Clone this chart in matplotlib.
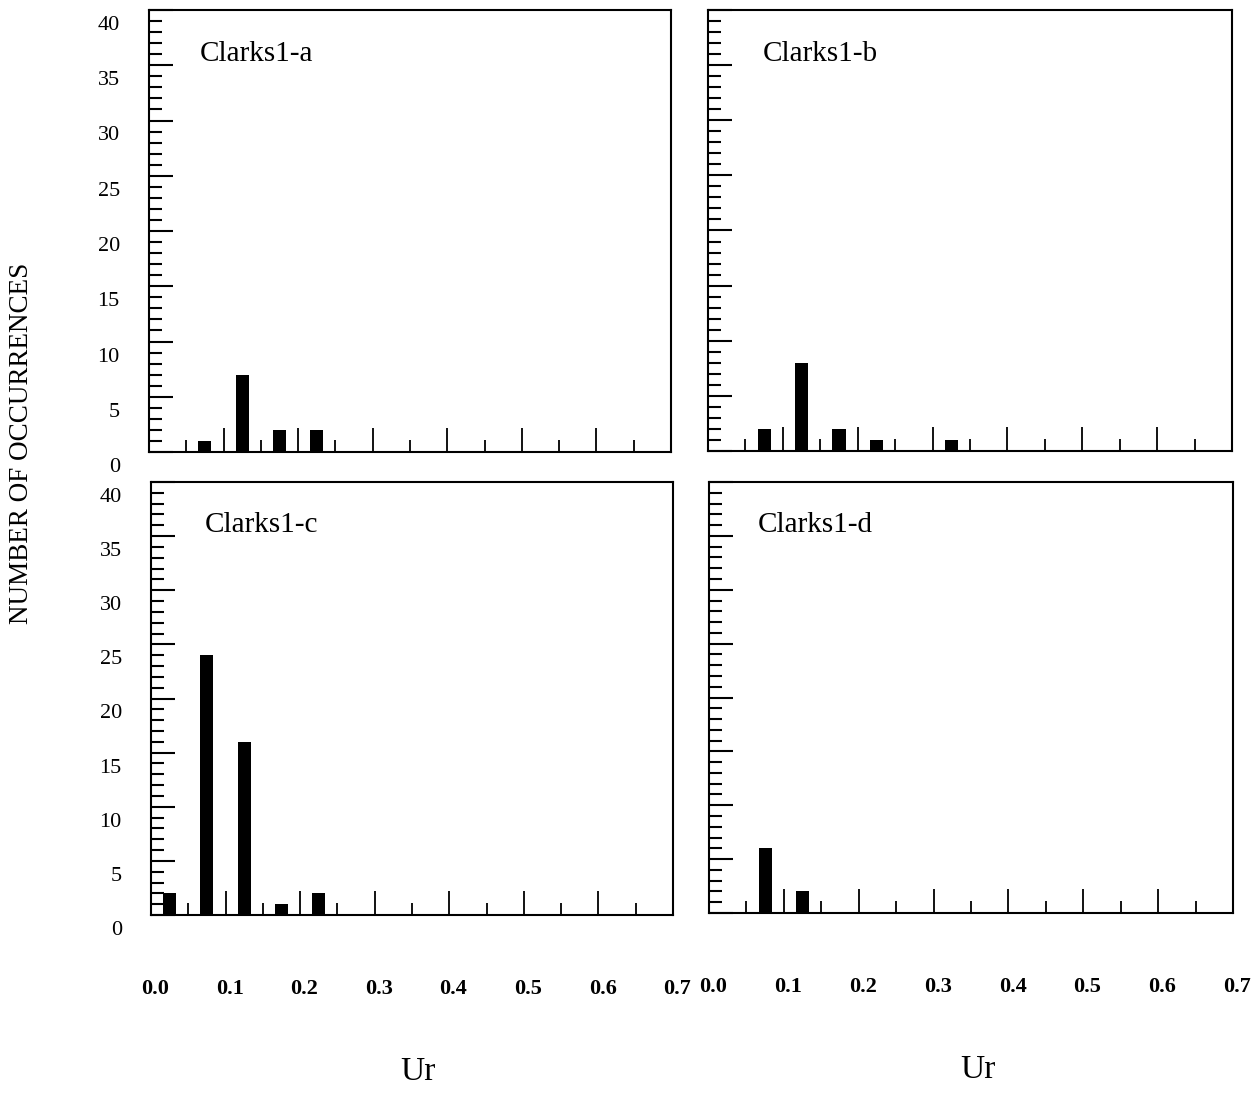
import matplotlib
matplotlib.use("Agg")
import matplotlib.pyplot as plt
from matplotlib.transforms import ScaledTranslation
from matplotlib.ticker import MultipleLocator, FixedLocator

plt.rcParams['font.family'] = ['Liberation Serif', 'DejaVu Serif']

# Data
bin_centers = [0.025, 0.075, 0.125, 0.175, 0.225, 0.275, 0.325]
counts_a = [0, 1, 7, 2, 2, 0, 0]
counts_b = [0, 2, 8, 2, 1, 0, 1]
counts_c = [2, 24, 16, 1, 2, 0, 0]
counts_d = [0, 6, 2, 0, 0, 0, 0]
panel_names = ["Clarks1-a", "Clarks1-b", "Clarks1-c", "Clarks1-d"]
x_tick_vals = [0.0, 0.1, 0.2, 0.3, 0.4, 0.5, 0.6, 0.7]
x_tick_labels = ["0.0", "0.1", "0.2", "0.3", "0.4", "0.5", "0.6", "0.7"]
y_tick_vals = [0, 5, 10, 15, 20, 25, 30, 35, 40]
y_tick_labels = ["0", "5", "10", "15", "20", "25", "30", "35", "40"]

W, H = 1257, 1100
fig = plt.figure(figsize=(W / 100, H / 100), dpi=100)

def rect(l, t, r, b):
    return [l / W, 1 - b / H, (r - l) / W, (b - t) / H]

rects = [rect(149, 10, 671, 452), rect(708, 10, 1232, 451),
         rect(151, 482, 673, 915), rect(709, 482, 1233, 913)]
series = [counts_a, counts_b, counts_c, counts_d]
name_pos = [(200, 54), (763, 54), (205, 525), (758, 525)]

for i, (r, cnt, name) in enumerate(zip(rects, series, panel_names)):
    ax = fig.add_axes(r)
    ax.bar(bin_centers, cnt, width=0.0175, color='black', align='center')
    ax.set_xlim(0, 0.7)
    ax.set_ylim(0, 40)
    for s in ax.spines.values():
        s.set_linewidth(1.5)
    # x ticks
    ax.xaxis.set_major_locator(FixedLocator(x_tick_vals))
    ax.xaxis.set_minor_locator(FixedLocator([0.05, 0.15, 0.25, 0.35, 0.45, 0.55, 0.65]))
    ax.tick_params(axis='x', which='major', direction='in', length=17, width=1.3, top=False)
    ax.tick_params(axis='x', which='minor', direction='in', length=9, width=1.3, top=False)
    # y ticks
    ax.yaxis.set_major_locator(FixedLocator(y_tick_vals))
    ax.yaxis.set_minor_locator(MultipleLocator(1))
    ax.tick_params(axis='y', which='major', direction='in', length=17, width=1.5, right=False)
    ax.tick_params(axis='y', which='minor', direction='in', length=9, width=1.5, right=False)
    if i >= 2:
        ax.set_xticklabels(x_tick_labels, fontsize=16, fontweight='bold')
        ax.tick_params(axis='x', which='major', pad=46)
        for lab in ax.get_xticklabels():
            lab.set_transform(lab.get_transform() + ScaledTranslation(3 / 72, 0, fig.dpi_scale_trans))
    else:
        ax.set_xticklabels([])
    if i % 2 == 0:
        ax.set_yticklabels(y_tick_labels, fontsize=16)
        ax.tick_params(axis='y', which='major', pad=21)
        for lab in ax.get_yticklabels():
            lab.set_transform(lab.get_transform() + ScaledTranslation(0, -13 / 100, fig.dpi_scale_trans))
    else:
        ax.set_yticklabels([])
    fig.text(name_pos[i][0] / W, 1 - name_pos[i][1] / H, name, fontsize=21,
             ha='left', va='center')

fig.text(418 / W, 1 - 1072 / H, "Ur", fontsize=24, ha='center', va='center')
fig.text(978 / W, 1 - 1070 / H, "Ur", fontsize=24, ha='center', va='center')
fig.text(22 / W, 1 - 443 / H, "NUMBER OF OCCURRENCES", fontsize=19.5, rotation=90,
         ha='center', va='center')

fig.savefig("out.png", dpi=100)
